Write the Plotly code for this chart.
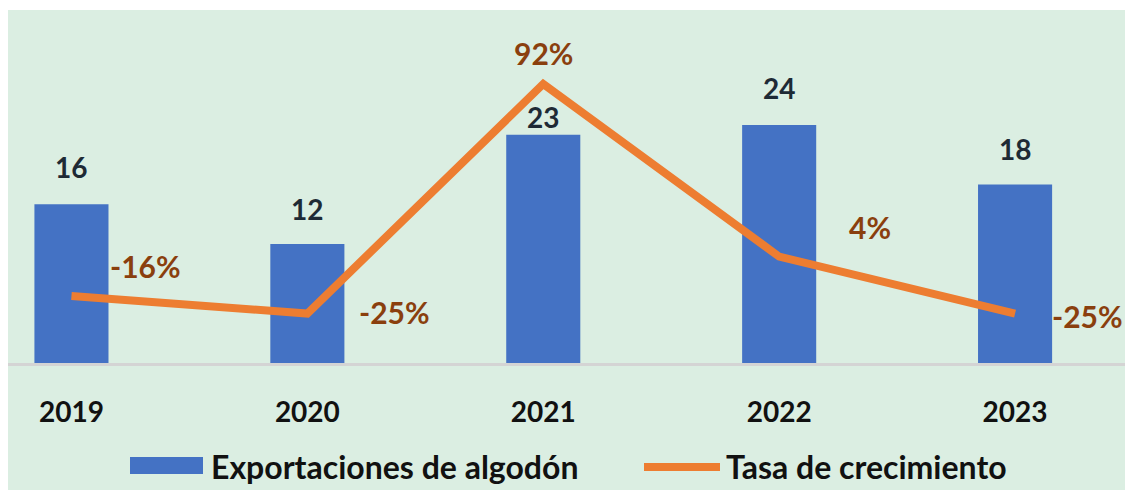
import plotly.graph_objects as go

# ---- data ----
years = ["2019", "2020", "2021", "2022", "2023"]
exportaciones = [16, 12, 23, 24, 18]
crecimiento = [-16, -25, 92, 4, -25]
crec_labels = ["-16%", "-25%", "92%", "4%", "-25%"]

# ---- styles ----
BG = "#DBEEE2"
BLUE = "#4472C4"
ORANGE = "#ED7D31"
BROWN = "#8A3F0E"
DARK = "#1E2A35"
FONT = "Lato, 'Open Sans', Arial, sans-serif"

W, H = 1125, 490
L, R, T, B = 8, 0, 10, 127
PW, PH = W - L - R, H - T - B

def px(xp):
    return (xp - L) / PW

def py(yp):
    return (H - B - yp) / PH

fig = go.Figure()
fig.add_trace(go.Bar(
    x=years, y=exportaciones, name="Exportaciones de algodón",
    marker=dict(color=BLUE, line=dict(width=0)), width=0.314,
    yaxis="y", showlegend=False, hoverinfo="skip"))
fig.add_trace(go.Scatter(
    x=years, y=crecimiento, name="Tasa de crecimiento", mode="lines",
    line=dict(color=ORANGE, width=8), yaxis="y2", showlegend=False,
    hoverinfo="skip"))

# bar value labels (offset in px above bar top); x given as category index
bar_label_shift = [37, 35, 18, 37, 35]
for i, (v, s) in enumerate(zip(exportaciones, bar_label_shift)):
    fig.add_annotation(x=i, y=v, xref="x", yref="y", text=f"<b>{v}</b>",
                       showarrow=False, yanchor="middle", yshift=s,
                       font=dict(family=FONT, size=28, color=DARK))

# growth labels
line_label_shift = [(74, 30), (87, 2), (0, 31), (91, 30), (72, -2)]
for i, (v, t, (dx, dy)) in enumerate(zip(crecimiento, crec_labels, line_label_shift)):
    fig.add_annotation(x=i, y=v, xref="x", yref="y2", text=f"<b>{t}</b>",
                       showarrow=False, xanchor="center", yanchor="middle",
                       xshift=dx, yshift=dy,
                       font=dict(family=FONT, size=30, color=BROWN))

# white band at the top and a thin white strip at the left
fig.add_shape(type="rect", xref="paper", yref="paper", x0=px(0), x1=1.02,
              y0=1, y1=py(0), fillcolor="white", line=dict(width=0), layer="below")
fig.add_shape(type="rect", xref="paper", yref="paper", x0=px(0), x1=0,
              y0=py(H), y1=py(0), fillcolor="white", line=dict(width=0), layer="below")

# custom legend
fig.add_shape(type="rect", xref="paper", yref="paper",
              x0=px(130), x1=px(203), y0=py(474), y1=py(457),
              fillcolor=BLUE, line=dict(width=0))
fig.add_annotation(xref="paper", yref="paper", x=px(209), y=py(466),
                   xanchor="left", yanchor="middle", showarrow=False,
                   text="<b>Exportaciones de algodón</b>",
                   font=dict(family=FONT, size=32, color="#111111"))
fig.add_shape(type="line", xref="paper", yref="paper",
              x0=px(644), x1=px(720), y0=py(467), y1=py(467),
              line=dict(color=ORANGE, width=8))
fig.add_annotation(xref="paper", yref="paper", x=px(724), y=py(466),
                   xanchor="left", yanchor="middle", showarrow=False,
                   text="<b>Tasa de crecimiento</b>",
                   font=dict(family=FONT, size=32, color="#111111"))

fig.update_layout(
    width=W, height=H,
    margin=dict(l=L, r=R, t=T, b=B, pad=0),
    paper_bgcolor=BG, plot_bgcolor=BG,
    bargap=0.5,
    xaxis=dict(type="category", range=[-0.269, 4.466], showgrid=False,
               showline=True, linecolor="#D4D4D4", linewidth=3,
               ticks="", ticklabelstandoff=22,
               tickfont=dict(family=FONT, size=28, color="#111111"),
               tickprefix="<b>", ticksuffix="</b>"),
    yaxis=dict(range=[0, 35.58], visible=False, showgrid=False, zeroline=False),
    yaxis2=dict(range=[-50.2, 129.7], overlaying="y", visible=False,
                showgrid=False, zeroline=False),
    showlegend=False,
)

fig.write_html(
    "out.html",
    config={"displayModeBar": False},
    post_script=("document.body.style.margin='0';"
                 "document.body.style.overflow='hidden';"
                 "document.documentElement.style.overflow='hidden';"),
)
